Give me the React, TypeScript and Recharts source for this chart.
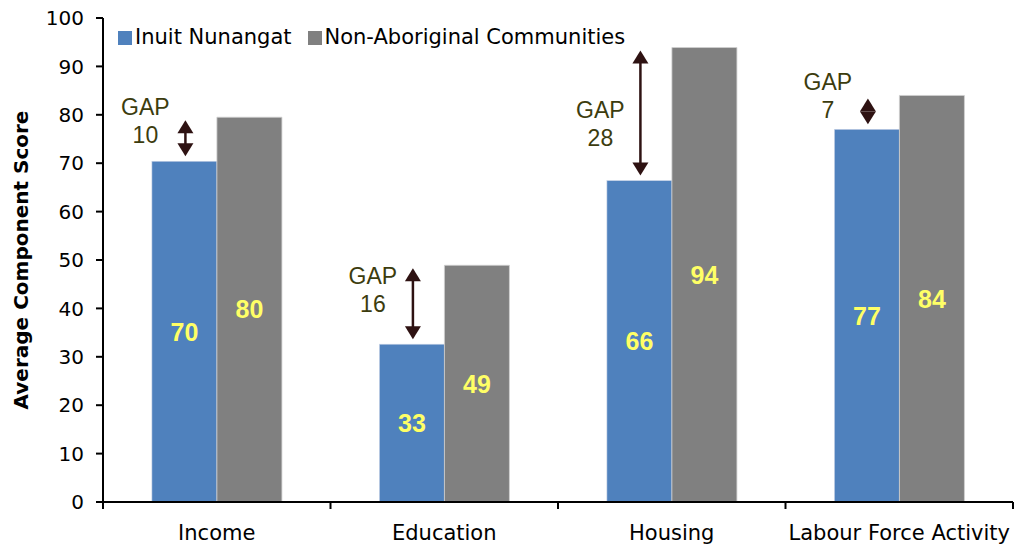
import React from 'react';
import { BarChart, Bar, XAxis, YAxis, LabelList } from 'recharts';

const categories = ['Income', 'Education', 'Housing', 'Labour Force Activity'];
const inuitNunangat = [70.4, 32.6, 66.4, 77.0];
const nonAboriginal = [79.5, 48.9, 93.9, 84.0];
const gapValues = [10, 16, 28, 7];
// score level where each "GAP" caption sits
const gapTextAt = [81.6, 46.6, 81.0, 86.8];
const yTicks = [0, 10, 20, 30, 40, 50, 60, 70, 80, 90, 100];
const seriesNames = ['Inuit Nunangat', 'Non-Aboriginal Communities'];

const BLUE = '#4F81BD';
const GRAY = '#808080';
const ARROW = '#2E1212';
const GAP_TEXT = '#3C3C0E';
const VALUE_TEXT = '#FFFF66';
const AXIS_FONT = '"DejaVu Sans", sans-serif';
const NOTE_FONT = '"Liberation Sans", Arial, sans-serif';

const data = categories.map((name, i) => ({
  name,
  inuit: inuitNunangat[i],
  other: nonAboriginal[i],
}));

function InuitBar(props: any) {
  const { x, y, width, height, payload } = props;
  const index = typeof props.index === 'number' ? props.index : categories.indexOf(payload.name);
  const bottom = y + height;
  const perUnit = height / payload.inuit;
  const grayTop = bottom - payload.other * perUnit;
  const cx = x + width / 2 + 1;
  const top = grayTop + 3;
  const bot = y - 5;
  const head = Math.min(13, (bot - top) / 2);
  const tx = x + width / 2 - 39;
  const ty = bottom - gapTextAt[index] * perUnit;
  return (
    <g>
      <rect x={x} y={y} width={width} height={height} fill={BLUE} stroke="#c8d3e6" strokeWidth={0.6} />
      {bot - top > 2 * head + 1 && (
        <line x1={cx} x2={cx} y1={top + head - 1} y2={bot - head + 1} stroke={ARROW} strokeWidth={2.5} />
      )}
      <polygon points={`${cx},${top} ${cx - 8},${top + head} ${cx + 8},${top + head}`} fill={ARROW} />
      <polygon points={`${cx},${bot} ${cx - 8},${bot - head} ${cx + 8},${bot - head}`} fill={ARROW} />
      <text x={tx} y={ty} textAnchor="middle" dominantBaseline="central" fontFamily={NOTE_FONT} fontSize={23} fill={GAP_TEXT}>
        GAP
      </text>
      <text x={tx} y={ty + 28} textAnchor="middle" dominantBaseline="central" fontFamily={NOTE_FONT} fontSize={23} fill={GAP_TEXT}>
        {gapValues[index]}
      </text>
    </g>
  );
}

function CategoryTick(props: any) {
  const { x, y, payload, index } = props;
  const half = typeof props.width === 'number' && props.width > 100 ? props.width / categories.length / 2 : 113.75;
  const last = index === categories.length - 1;
  return (
    <g>
      <line x1={x - half} x2={x - half} y1={y} y2={y + 7} stroke="#000" strokeWidth={2} />
      {last && <line x1={x + half} x2={x + half} y1={y} y2={y + 7} stroke="#000" strokeWidth={2} />}
      <text x={x} y={y + 38} textAnchor="middle" fontFamily={AXIS_FONT} fontSize={21} fill="#000">
        {payload.value}
      </text>
    </g>
  );
}

function YTitle(props: any) {
  const vb = props.viewBox || {};
  const cy = typeof vb.y === 'number' ? vb.y + vb.height / 2 : 260;
  const cx = 21;
  return (
    <text
      x={cx}
      y={cy}
      transform={`rotate(-90 ${cx} ${cy})`}
      textAnchor="middle"
      dominantBaseline="central"
      fontFamily={AXIS_FONT}
      fontWeight="bold"
      fontSize={20}
      fill="#000"
    >
      Average Component Score
    </text>
  );
}

function LegendBox() {
  const colors = [BLUE, GRAY];
  return (
    <div
      style={{
        position: 'absolute',
        left: 118,
        top: 27,
        height: 21,
        display: 'flex',
        alignItems: 'center',
        fontFamily: AXIS_FONT,
        fontSize: 21,
        lineHeight: '21px',
        color: '#000',
        whiteSpace: 'nowrap',
      }}
    >
      {seriesNames.map((name, i) => (
        <div key={name} style={{ display: 'flex', alignItems: 'center', marginRight: 16 }}>
          <span style={{ width: 14, height: 14, background: colors[i], marginRight: 3, display: 'inline-block' }} />
          <span>{name}</span>
        </div>
      ))}
    </div>
  );
}

export default function App() {
  return (
    <div style={{ position: 'absolute', left: 0, top: 0, width: 1015, height: 547, background: '#fff' }}>
      <BarChart
        width={1015}
        height={547}
        data={data}
        margin={{ top: 18, right: 2, bottom: 0, left: 0 }}
        barCategoryGap="21.5%"
        barGap={0}
      >
        <XAxis
          dataKey="name"
          height={45}
          axisLine={{ stroke: '#000', strokeWidth: 2 }}
          tickLine={false}
          tickSize={0}
          tickMargin={0}
          interval={0}
          tick={<CategoryTick />}
        />
        <YAxis
          yAxisId="left"
          width={103}
          domain={[0, 100]}
          ticks={yTicks}
          interval={0}
          axisLine={{ stroke: '#000', strokeWidth: 2 }}
          tickLine={{ stroke: '#000', strokeWidth: 2 }}
          tickSize={7}
          tickMargin={12}
          tick={{ fill: '#000', fontSize: 20, fontFamily: AXIS_FONT }}
          label={{ value: 'Average Component Score', content: YTitle }}
        />
        <YAxis
          yAxisId="right"
          orientation="right"
          width={0}
          domain={[0, 100]}
          tick={false}
          tickLine={false}
          axisLine={{ stroke: '#8a8a8a', strokeWidth: 2 }}
        />
        <Bar yAxisId="left" dataKey="inuit" name={seriesNames[0]} fill={BLUE} shape={<InuitBar />} isAnimationActive={false}>
          <LabelList
            dataKey="inuit"
            position="center"
            formatter={(v: any) => Math.round(Number(v))}
            fill={VALUE_TEXT}
            fontSize={25}
            fontWeight="bold"
            fontFamily={NOTE_FONT}
          />
        </Bar>
        <Bar
          yAxisId="left"
          dataKey="other"
          name={seriesNames[1]}
          fill={GRAY}
          stroke="#cfcfcf"
          strokeWidth={0.8}
          isAnimationActive={false}
        >
          <LabelList
            dataKey="other"
            position="center"
            formatter={(v: any) => Math.round(Number(v))}
            fill={VALUE_TEXT}
            fontSize={25}
            fontWeight="bold"
            fontFamily={NOTE_FONT}
          />
        </Bar>
      </BarChart>
      <LegendBox />
    </div>
  );
}
